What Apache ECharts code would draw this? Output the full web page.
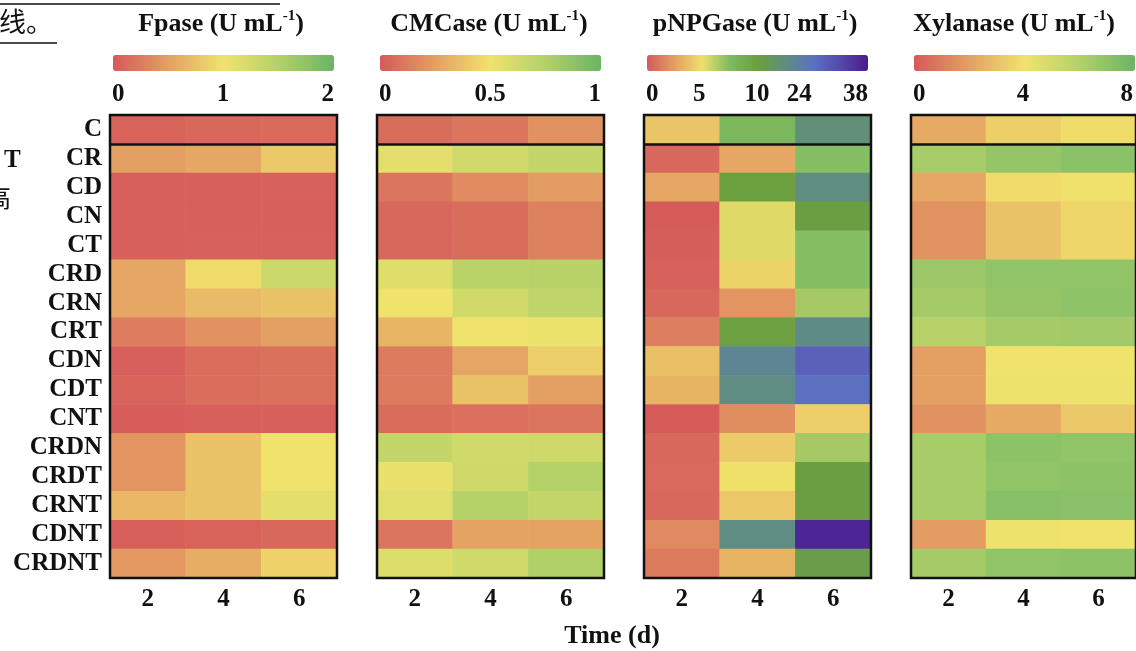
<!DOCTYPE html>
<html>
<head>
<meta charset="utf-8">
<script src="https://cdn.jsdelivr.net/npm/echarts@6/dist/echarts.min.js"></script>
<style>
html, body { margin: 0; padding: 0; background: #fff; }
#chart { width: 1136px; height: 651px; }
</style>
</head>
<body>
<div id="chart"></div>
<script>
var treatments = ['C', 'CR', 'CD', 'CN', 'CT', 'CRD', 'CRN', 'CRT', 'CDN', 'CDT', 'CNT', 'CRDN', 'CRDT', 'CRNT', 'CDNT', 'CRDNT'];
var days = ['2', '4', '6'];

// enzyme activity (U mL-1), one row per treatment: day 2, day 4, day 6
var fpase = [
    [0.08, 0.1, 0.12], [0.5, 0.55, 0.8], [0.05, 0.05, 0.06], [0.05, 0.05, 0.05],
    [0.05, 0.06, 0.06], [0.55, 0.95, 1.3], [0.55, 0.7, 0.76], [0.25, 0.4, 0.5],
    [0.05, 0.15, 0.17], [0.07, 0.15, 0.17], [0.03, 0.05, 0.05], [0.42, 0.75, 1.0],
    [0.42, 0.75, 1.0], [0.68, 0.75, 1.1], [0.05, 0.07, 0.1], [0.45, 0.6, 0.88]
];
var cmcase = [
    [0.07, 0.1, 0.2], [0.55, 0.63, 0.68], [0.1, 0.18, 0.24], [0.05, 0.07, 0.14],
    [0.05, 0.07, 0.14], [0.57, 0.72, 0.73], [0.5, 0.63, 0.7], [0.33, 0.5, 0.52],
    [0.12, 0.27, 0.42], [0.12, 0.38, 0.25], [0.07, 0.08, 0.1], [0.68, 0.63, 0.64],
    [0.53, 0.64, 0.74], [0.56, 0.74, 0.68], [0.1, 0.26, 0.26], [0.58, 0.63, 0.76]
];
var pnpgase = [
    [4.1, 7.9, 18.1], [0.5, 2.9, 7.4], [2.9, 10, 19.2], [0.1, 5.5, 10.5],
    [0.2, 5.5, 7.4], [0.3, 4.7, 7.4], [0.5, 2.2, 6.7], [1.4, 9.8, 20],
    [3.9, 21.8, 29], [3.4, 19.6, 26.9], [0.1, 1.9, 4.5], [0.5, 4.3, 6.7],
    [0.6, 5.2, 10.7], [0.5, 4.2, 10.7], [1.8, 19.6, 36.6], [1.2, 3.4, 11.5]
];
var xylanase = [
    [2.3, 3.4, 3.8], [6.3, 6.8, 7.1], [2.2, 3.8, 3.95], [1.65, 3.0, 3.6],
    [1.65, 3.0, 3.6], [6.6, 6.95, 6.95], [6.4, 6.8, 7.0], [5.9, 6.4, 6.45],
    [2.0, 4.0, 4.0], [2.0, 4.1, 4.1], [1.6, 2.3, 3.2], [6.3, 7.05, 6.95],
    [6.3, 6.95, 7.05], [6.3, 7.2, 7.15], [1.9, 4.1, 4.0], [6.4, 6.95, 7.05]
];

// colour bar ticks
var fpaseTicks = [0, 1, 2];
var cmcaseTicks = [0, 0.5, 1];
var xylanaseTicks = [0, 4, 8];
var pnpgaseTicks = [0, 5, 10, 24, 38];
var pnpgaseTickPos = [0, 24, 50, 69, 100]; // pNPGase bar is not linear

var redGreen = ['#d5595a', '#e4a062', '#f0e36c', '#b3d168', '#6bb466'];
var pnpgColors = ['#d5595a', '#e4a062', '#efe06a', '#7dbb62', '#6c9f3e', '#5f8d80', '#5b72c0', '#5548ac', '#4b1a8e'];

var serif = "'Liberation Serif', 'Times New Roman', serif";
var ink = '#111';

// piecewise linear position of a pNPGase value on its colour bar
function pnpgScale(v) {
    for (var k = 1; k < pnpgaseTicks.length; k++) {
        if (v <= pnpgaseTicks[k]) {
            var f = (v - pnpgaseTicks[k - 1]) / (pnpgaseTicks[k] - pnpgaseTicks[k - 1]);
            return pnpgaseTickPos[k - 1] + f * (pnpgaseTickPos[k] - pnpgaseTickPos[k - 1]);
        }
    }
    return 100;
}

var panels = [
    {name: 'Fpase', values: fpase, min: 0, max: 2, ticks: fpaseTicks, colors: redGreen, left: 110},
    {name: 'CMCase', values: cmcase, min: 0, max: 1, ticks: cmcaseTicks, colors: redGreen, left: 377},
    {name: 'pNPGase', values: pnpgase, min: 0, max: 100, ticks: pnpgaseTickPos, colors: pnpgColors, left: 644, scale: pnpgScale},
    {name: 'Xylanase', values: xylanase, min: 0, max: 8, ticks: xylanaseTicks, colors: redGreen, left: 911}
];
var titleX = [221, 489, 755, 1014];

var grid = [], xAxis = [], yAxis = [], series = [], visualMap = [], graphic = [];

panels.forEach(function (p, i) {
    // heatmap grid
    grid.push({
        left: p.left, top: 115, width: 227, height: 463,
        show: true, z: 3, borderWidth: 2.5, borderColor: ink, backgroundColor: 'transparent'
    });
    xAxis.push({
        type: 'category', gridIndex: i, data: days,
        axisLine: {show: false}, axisTick: {show: false},
        axisLabel: {margin: 9, color: ink, fontFamily: serif, fontWeight: 'bold', fontSize: 25}
    });
    yAxis.push({
        type: 'category', gridIndex: i, data: treatments, inverse: true,
        axisLine: {show: false}, axisTick: {show: false}, splitLine: {show: false},
        axisLabel: {show: i === 0, interval: 0, margin: 8, color: ink, fontFamily: serif, fontWeight: 'bold', fontSize: 25}
    });
    var data = [];
    p.values.forEach(function (row, r) {
        row.forEach(function (v, c) {
            data.push([c, r, p.scale ? p.scale(v) : v]);
        });
    });
    series.push({
        type: 'heatmap', name: p.name, xAxisIndex: i, yAxisIndex: i, data: data
    });
    visualMap.push({
        type: 'continuous', seriesIndex: i, min: p.min, max: p.max,
        orient: 'horizontal', left: p.left + 3, top: 55,
        itemWidth: 16, itemHeight: 221, padding: 0,
        calculable: false, hoverLink: false,
        inRange: {color: p.colors}
    });
    graphic.push({
        type: 'text', x: titleX[i], y: 24,
        style: {
            text: '{t|' + p.name + ' (U mL}{s|-1}{t|)}',
            align: 'center', verticalAlign: 'middle',
            rich: {
                t: {fontFamily: serif, fontWeight: 'bold', fontSize: 26, lineHeight: 30, fill: ink},
                s: {fontFamily: serif, fontWeight: 'bold', fontSize: 15, lineHeight: 30, verticalAlign: 'top', fill: ink}
            }
        }
    });
});

// tick label strips under the colour bars
panels.forEach(function (p, i) {
    grid.push({left: p.left + 2, top: 72, width: 222, height: 1});
    xAxis.push({
        type: 'value', gridIndex: 4 + i, min: p.min, max: p.max,
        axisLine: {show: false}, axisTick: {show: false}, splitLine: {show: false},
        axisLabel: {
            customValues: p.ticks, alignMinLabel: 'left', alignMaxLabel: 'right',
            margin: 9, color: ink, fontFamily: serif, fontWeight: 'bold', fontSize: 25,
            formatter: function (v) {
                return p.scale ? String(pnpgaseTicks[pnpgaseTickPos.indexOf(v)]) : String(v);
            }
        }
    });
    yAxis.push({type: 'value', gridIndex: 4 + i, show: false});
});

// rule between the control C and the treatments, on a hidden row-count axis
panels.forEach(function (p, i) {
    yAxis.push({type: 'value', gridIndex: i, min: 0, max: treatments.length, inverse: true, show: false});
    series.push({
        type: 'line', xAxisIndex: i, yAxisIndex: 8 + i, data: [], silent: true,
        markLine: {
            silent: true, symbol: 'none', label: {show: false}, animation: false,
            lineStyle: {color: ink, width: 2.5, type: 'solid'},
            data: [{yAxis: 1}]
        }
    });
});

graphic.push({
    type: 'text', x: 612, y: 636,
    style: {text: 'Time (d)', font: 'bold 26px ' + serif, fill: ink, align: 'center', verticalAlign: 'middle'}
});
// bits of the surrounding page text
graphic.push({type: 'text', x: -1, y: 22, style: {text: '线。', font: '27px "Noto Sans CJK SC"', fill: ink, verticalAlign: 'middle'}});
graphic.push({type: 'line', shape: {x1: 0, y1: 43, x2: 57, y2: 43}, style: {stroke: ink, lineWidth: 1.5}});
graphic.push({type: 'line', shape: {x1: 0, y1: 4, x2: 280, y2: 4}, style: {stroke: ink, lineWidth: 1.5}});
graphic.push({type: 'text', x: 4, y: 161, style: {text: 'T', font: 'bold 25px ' + serif, fill: ink, verticalAlign: 'middle'}});
graphic.push({type: 'text', x: -14, y: 197, style: {text: '高', font: '25px "Noto Sans CJK SC"', fill: ink, verticalAlign: 'middle'}});

var chart = echarts.init(document.getElementById('chart'));
chart.setOption({
    animation: false,
    grid: grid,
    xAxis: xAxis,
    yAxis: yAxis,
    visualMap: visualMap,
    series: series,
    graphic: graphic
});
</script>
</body>
</html>
